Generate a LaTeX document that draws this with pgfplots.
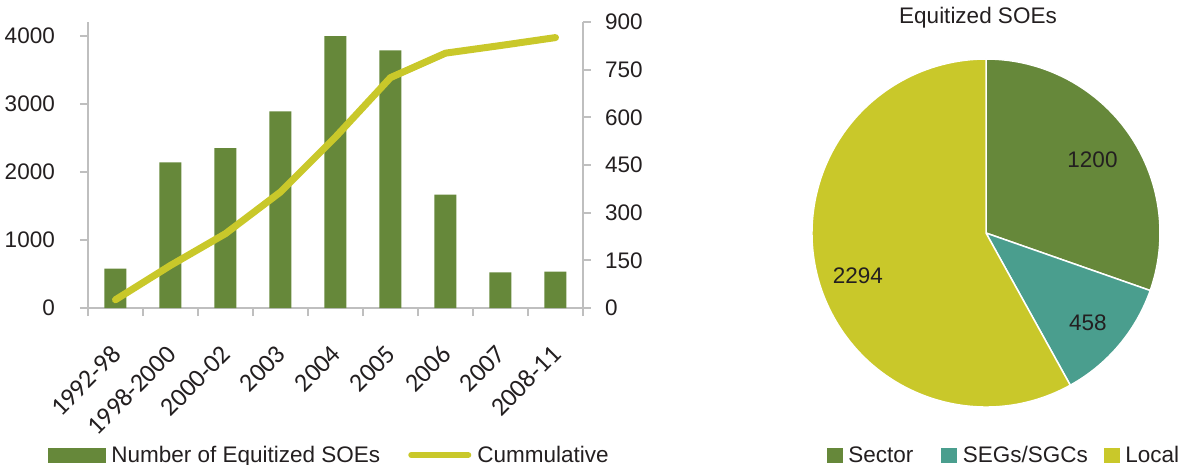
\documentclass[border=0pt]{standalone}
\usepackage{fontspec}
\setmainfont{Liberation Sans}
\newfontfamily\calibri{Carlito}
\usepackage{pgfplots}
\pgfplotsset{compat=1.18}
\definecolor{barG}{HTML}{66883A}
\definecolor{lineY}{HTML}{C9C82A}
\definecolor{tealC}{HTML}{4A9E8E}
\definecolor{axisG}{HTML}{BFBFBF}
\definecolor{txt}{HTML}{231F20}
\begin{document}
\begin{tikzpicture}[font=\fontsize{22.5}{27}\selectfont, text=txt]
\useasboundingbox (0pt,0pt) rectangle (1178pt,464pt);
% ---------- bars (left axis) ----------
\begin{axis}[
  scale only axis, width=495pt, height=286pt,
  at={(88pt,156pt)}, anchor=south west,
  xmin=-0.5, xmax=8.5, ymin=0, ymax=4206,
  axis x line*=bottom, axis y line*=left,
  axis line style={axisG, line width=1.8pt},
  tick align=outside,
  major tick length=8pt, minor tick length=8pt,
  ytick={0,1000,2000,3000,4000},
  yticklabel style={/pgf/number format/1000 sep={}, anchor=east, inner sep=0pt, xshift=-25pt},
  xtick={0,...,8},
  xticklabels={1992-98,1998-2000,2000-02,2003,2004,2005,2006,2007,2008-11},
  xticklabel style={xshift=1pt, yshift=-34pt, rotate=45, anchor=east, inner sep=0pt, font=\calibri\fontsize{26}{31}\selectfont},
  minor xtick={-0.5,0.5,...,8.5},
  major x tick style={draw=none},
  minor x tick style={axisG, line width=1.8pt},
  major y tick style={axisG, line width=1.8pt},
  /pgf/number format/assume math mode=true,
  ybar, bar width=22pt,
  clip=false,
]
\addplot[fill=barG, draw=none] coordinates {
 (0,580) (1,2140) (2,2350) (3,2890) (4,4000) (5,3790) (6,1667) (7,525) (8,535)};
\end{axis}
% ---------- cumulative (right axis) ----------
\begin{axis}[
  scale only axis, width=495pt, height=286pt,
  at={(88pt,156pt)}, anchor=south west,
  xmin=-0.5, xmax=8.5, ymin=0, ymax=900,
  axis x line=none, axis y line*=right,
  axis line style={axisG, line width=1.8pt},
  tick align=outside, major tick length=8pt,
  ytick={0,150,300,450,600,750,900},
  major y tick style={axisG, line width=1.8pt},
  yticklabel style={anchor=west, inner sep=0pt, xshift=14pt},
  /pgf/number format/assume math mode=true,
  clip=false,
  legend columns=2,
  legend style={at={(-0.0808,-0.514)}, anchor=west, draw=none, fill=none,
    inner sep=0pt, outer sep=0pt,
    /tikz/every even column/.append style={column sep=22pt},
    nodes={inner ysep=3pt, inner xsep=6pt, text=txt}},
]
\addlegendimage{legend image code/.code={\fill[barG] (0pt,-7pt) rectangle (57pt,7pt);}}
\addlegendentry{Number of Equitized SOEs}
\addplot[lineY, line width=7pt, line cap=round, line join=round,
  legend image code/.code={\draw[lineY, line width=6pt, line cap=round] (3pt,0pt) -- (60pt,0pt);}]
  coordinates {(0,26) (1,134) (2,234) (3,365) (4,538) (5,725) (6,802) (7,826) (8,851)};
\addlegendentry{Cummulative}
\end{axis}
% ---------- pie ----------
\pgfmathsetmacro\tot{1200+458+2294}
\pgfmathsetmacro\aA{90-1200/\tot*360}
\pgfmathsetmacro\aB{\aA-458/\tot*360}
\begin{axis}[
  scale only axis, width=348pt, height=348pt,
  at={(986pt,231pt)}, anchor=center,
  xmin=-1, xmax=1, ymin=-1, ymax=1, hide axis, clip=false,
  legend columns=3,
  legend style={at={(0.0431,-0.138)}, anchor=west, draw=none, fill=none,
    inner sep=0pt, outer sep=0pt,
    /tikz/every even column/.append style={column sep=10pt},
    nodes={inner ysep=3pt, inner xsep=6pt, text=txt}},
]
\addlegendimage{legend image code/.code={\fill[barG] (0pt,-7pt) rectangle (15pt,7pt);}}
\addlegendentry{Sector\hspace*{12pt}}
\addlegendimage{legend image code/.code={\fill[tealC] (0pt,-7pt) rectangle (15pt,7pt);}}
\addlegendentry{SEGs/SGCs}
\addlegendimage{legend image code/.code={\fill[lineY] (0pt,-7pt) rectangle (15pt,7pt);}}
\addlegendentry{Local}
\fill[barG, draw=white, line width=1.5pt] (axis cs:0,0) -- ++(90:174pt) arc[start angle=90, end angle=\aA, radius=174pt] -- cycle;
\fill[tealC, draw=white, line width=1.5pt] (axis cs:0,0) -- ++(\aA:174pt) arc[start angle=\aA, end angle=\aB, radius=174pt] -- cycle;
\fill[lineY, draw=white, line width=1.5pt] (axis cs:0,0) -- ++(\aB:174pt) arc[start angle=\aB, end angle=-270, radius=174pt] -- cycle;
\node at (axis cs:0.612,0.422) {1200};
\node at (axis cs:0.586,-0.514) {458};
\node at (axis cs:-0.736,-0.247) {2294};
\end{axis}
\node[anchor=base] at (978pt,440pt) {Equitized SOEs};
\end{tikzpicture}
\end{document}
